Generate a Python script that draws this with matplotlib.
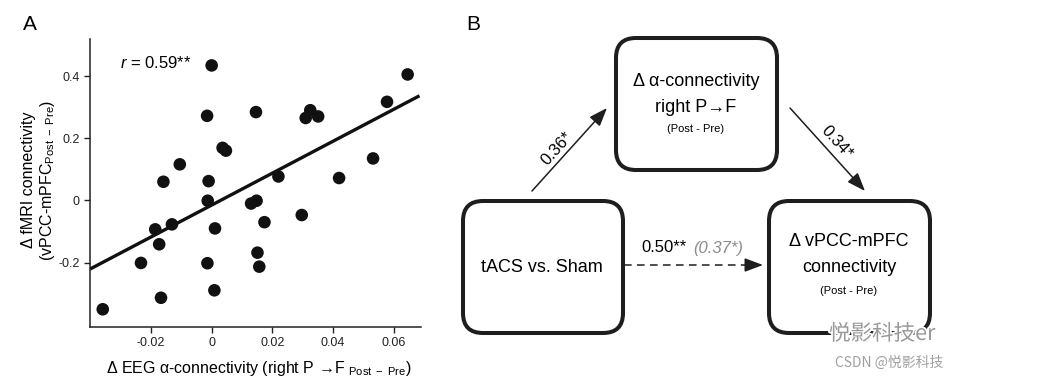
import numpy as np
import matplotlib
matplotlib.use('Agg')
import matplotlib.pyplot as plt
from matplotlib.patches import FancyBboxPatch
import matplotlib.patheffects as pe

plt.rcParams['font.family'] = ['Liberation Sans', 'DejaVu Sans']
plt.rcParams['mathtext.fontset'] = 'custom'
plt.rcParams['mathtext.rm'] = 'Liberation Sans'
plt.rcParams['mathtext.it'] = 'Liberation Sans:italic'

# panel A: change in EEG alpha connectivity vs change in fMRI connectivity
eeg_delta = [0.0000, 0.0646, 0.0578, -0.0015, 0.0146, 0.0310, 0.0325, 0.0351,
             0.0036, 0.0047, -0.0105, -0.0159, -0.0010, 0.0532, 0.0220, 0.0420,
             -0.0013, 0.0130, 0.0148, 0.0297, 0.0174, 0.0011, -0.0131, -0.0186,
             -0.0173, -0.0233, -0.0014, 0.0151, 0.0157, 0.0009, -0.0167, -0.0359]
fmri_delta = [0.434, 0.405, 0.317, 0.272, 0.284, 0.265, 0.290, 0.270,
              0.169, 0.160, 0.116, 0.060, 0.062, 0.135, 0.077, 0.072,
              -0.001, -0.010, -0.001, -0.047, -0.070, -0.090, -0.077, -0.093,
              -0.141, -0.201, -0.202, -0.168, -0.213, -0.289, -0.313, -0.350]
r_text = "0.59**"
x_ticks = [-0.02, 0, 0.02, 0.04, 0.06]
x_ticklabels = ['-0.02', '0', '0.02', '0.04', '0.06']
y_ticks = [-0.2, 0, 0.2, 0.4]
y_ticklabels = ['-0.2', '0', '0.2', '0.4']

# panel B: mediation path coefficients
path_a = "0.36*"
path_b = "0.34*"
path_c = "0.50**"
path_c_prime = "(0.37*)"

W, H = 1064, 382
fig = plt.figure(figsize=(W / 100, H / 100), dpi=100)

ax = fig.add_axes([90 / W, 55 / H, 331 / W, 288 / H])
xmin, xmax = -0.0401, 0.069
ax.set_xlim(xmin, xmax)
ax.set_ylim(-0.407, 0.519)
ax.scatter(eeg_delta, fmri_delta, s=82, color='#111111', edgecolors='none', zorder=3)
slope, icpt = np.polyfit(eeg_delta, fmri_delta, 1)
xx = np.array([xmin, xmax - 0.0005])
ax.plot(xx, slope * xx + icpt, color='#111111', lw=2.4, solid_capstyle='butt', zorder=2)
for s in ['top', 'right']:
    ax.spines[s].set_visible(False)
for s in ['left', 'bottom']:
    ax.spines[s].set_linewidth(1.1)
    ax.spines[s].set_color('#222222')
ax.set_xticks(x_ticks)
ax.set_xticklabels(x_ticklabels)
ax.set_yticks(y_ticks)
ax.set_yticklabels(y_ticklabels)
ax.tick_params(direction='out', length=4, width=1, labelsize=9, pad=3.5, colors='#222222')
ax.text(0.09, 0.915, r"$r$ = " + r_text, transform=ax.transAxes, fontsize=12,
        ha='left', va='center')

fig.text(259 / W, 1 - 368 / H,
         r"Δ EEG α-connectivity (right P →F $_{\mathrm{Post\ -\ Pre}}$)",
         ha='center', va='center', fontsize=11.5)
fig.text(39 / W, 1 - 180 / H,
         "Δ fMRI connectivity\n" + r"(vPCC-mPFC$_{\mathrm{Post\ -\ Pre}}$)",
         ha='center', va='center', rotation=90, fontsize=11.5, linespacing=1.1)
fig.text(30 / W, 1 - 24 / H, "A", ha='center', va='center', fontsize=15)
fig.text(473 / W, 1 - 24 / H, "B", ha='center', va='center', fontsize=15)

# overlay in pixel coordinates for the diagram
ov = fig.add_axes([0, 0, 1, 1])
ov.set_xlim(0, W)
ov.set_ylim(H, 0)
ov.axis('off')
ov.patch.set_visible(False)

boxes = {'mid': (616, 38, 161, 132), 'left': (463, 201, 160, 132), 'right': (769, 201, 161, 132)}
for bx, by, bw, bh in boxes.values():
    ov.add_patch(FancyBboxPatch((bx, by), bw, bh, boxstyle="round,pad=0,rounding_size=20",
                                fc='none', ec='#1e1e1e', lw=2.9))

ov.text(696, 81, "Δ α-connectivity", ha='center', va='center', fontsize=13)
ov.text(696, 107, "right P→F", ha='center', va='center', fontsize=13)
ov.text(696, 129, "(Post - Pre)", ha='center', va='center', fontsize=8)
ov.text(542, 268, "tACS vs. Sham", ha='center', va='center', fontsize=13)
ov.text(849, 242, "Δ vPCC-mPFC", ha='center', va='center', fontsize=13)
ov.text(849, 268, "connectivity", ha='center', va='center', fontsize=13)
ov.text(849, 291, "(Post - Pre)", ha='center', va='center', fontsize=8)

arrow_style = dict(arrowstyle='-|>,head_length=0.8,head_width=0.3', lw=1.1,
                   color='#1e1e1e', mutation_scale=14, shrinkA=0, shrinkB=0)
ov.annotate("", xy=(607, 108), xytext=(532, 191), arrowprops=arrow_style)
ov.annotate("", xy=(865, 191), xytext=(790, 108), arrowprops=arrow_style)
ov.plot([624, 750], [265, 265], color='#1e1e1e', lw=1.1, ls=(0, (5, 3.5)))
ov.annotate("", xy=(763, 265), xytext=(747, 265), arrowprops=arrow_style)

ov.text(557, 149, path_a, ha='center', va='center', fontsize=12, rotation=48)
ov.text(837, 142, path_b, ha='center', va='center', fontsize=12, rotation=-48)
ov.text(687, 248, path_c, ha='right', va='center', fontsize=12)
ov.text(693, 248, path_c_prime, ha='left', va='center', fontsize=12,
        style='italic', color='#8c8c8c')

# watermark
ov.text(829, 334, "悦影科技er", ha='left', va='center', fontsize=15.5, color='#9a9a9a',
        family=['Noto Sans CJK SC', 'DejaVu Sans'],
        path_effects=[pe.withStroke(linewidth=2.5, foreground='white')])
ov.text(835, 363, "CSDN @悦影科技", ha='left', va='center', fontsize=10, color='#a0a0a0',
        family=['Noto Sans CJK SC', 'DejaVu Sans'])

fig.savefig("out.png", dpi=100)
